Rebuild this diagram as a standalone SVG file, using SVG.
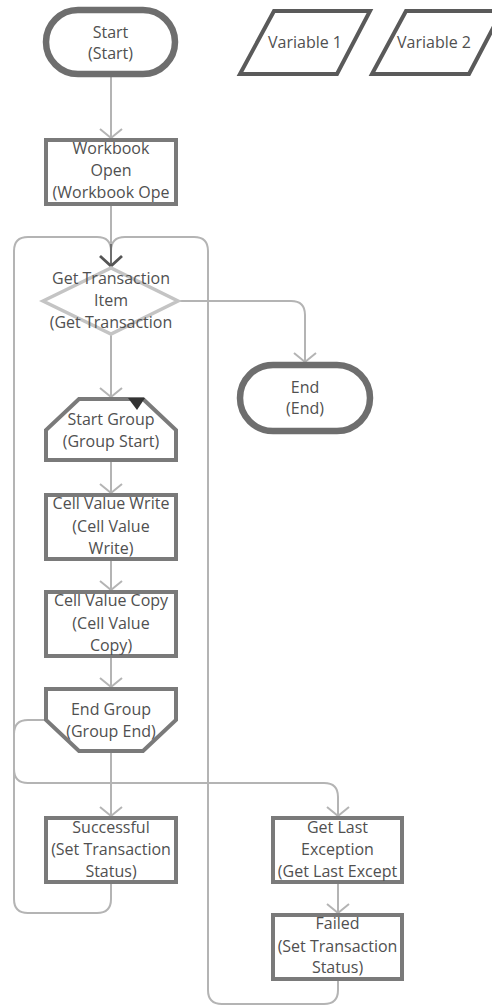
<svg xmlns="http://www.w3.org/2000/svg" width="492" height="1006" viewBox="0 0 492 1006">
<style>
.t{font-family:"Open Sans","Noto Sans","DejaVu Sans",sans-serif;font-size:16px;fill:#505050;text-anchor:middle}
.term{fill:#fff;stroke:#6e6e6e;stroke-width:6.5}
.box{fill:#fff;stroke:#7a7a7a;stroke-width:4}
.var{fill:#fff;stroke:#5a5a5a;stroke-width:4;stroke-linejoin:miter}
.dec{fill:#fff;stroke:#c4c4c4;stroke-width:3.5}
.c{fill:none;stroke:#b4b4b4;stroke-width:2}
</style>
<defs>
<marker id="ar" markerUnits="userSpaceOnUse" markerWidth="24" markerHeight="26" refX="12" refY="13" orient="auto" overflow="visible">
<path d="M3,2 L12,13 L3,24" fill="none" stroke="#b4b4b4" stroke-width="2"/>
</marker>
<marker id="ard" markerUnits="userSpaceOnUse" markerWidth="24" markerHeight="26" refX="12" refY="13" orient="auto" overflow="visible">
<path d="M2,2 L12,13 L2,24" fill="none" stroke="#555" stroke-width="2.8"/>
</marker>
</defs>
<g id="connectors">
<path class="c" d="M111,884 V899 Q111,913 97,913 H28 Q14,913 14,899 V251 Q14,237 28,237 H97 Q111,237 111,251"/>
<path class="c" d="M338,981 V990 Q338,1004 324,1004 H222 Q208,1004 208,990 V251 Q208,237 194,237 H125 Q111,237 111,251"/>
<path class="c" d="M111,77 V138" marker-end="url(#ar)"/>
<path class="c" d="M111,206 V244"/>
<path d="M111,244 V266" fill="none" stroke="#707070" stroke-width="2" marker-end="url(#ard)"/>
<path class="c" d="M178,301 H291 Q305,301 305,315 V362" marker-end="url(#ar)"/>
<path class="c" d="M111,334 V397" marker-end="url(#ar)"/>
<path class="c" d="M111,462 V493" marker-end="url(#ar)"/>
<path class="c" d="M111,561 V590" marker-end="url(#ar)"/>
<path class="c" d="M111,658 V687" marker-end="url(#ar)"/>
<path class="c" d="M111,753 V816" marker-end="url(#ar)"/>
<path class="c" d="M44,720 H28 Q14,720 14,734 V769 Q14,783 28,783 H324 Q338,783 338,797 V816" marker-end="url(#ar)"/>
<path class="c" d="M338,884 V913" marker-end="url(#ar)"/>
</g>
<g id="start">
<rect class="term" x="46" y="10" width="129" height="64" rx="32"/>
<text class="t" x="110.5" y="38">Start</text>
<text class="t" x="110.5" y="59">(Start)</text>
</g>
<g id="var1">
<polygon class="var" points="274,11 370,11 337,74 240,74"/>
<text class="t" x="305" y="48">Variable 1</text>
</g>
<g id="var2">
<polygon class="var" points="406,11 502,11 469,74 372,74"/>
<text class="t" x="434" y="48">Variable 2</text>
</g>
<g id="workbook">
<rect class="box" x="46" y="140" width="130" height="64"/>
<text class="t" x="111" y="154">Workbook</text>
<text class="t" x="111" y="176">Open</text>
<text class="t" x="111" y="198">(Workbook Ope</text>
</g>
<g id="gettx">
<polygon class="dec" points="43,301 111,268 178,301 111,334"/>
<text class="t" x="111" y="284">Get Transaction</text>
<text class="t" x="111" y="306">Item</text>
<text class="t" x="111" y="328">(Get Transaction</text>
</g>
<g id="end">
<rect class="term" x="240" y="365" width="130" height="66" rx="33"/>
<text class="t" x="305" y="393">End</text>
<text class="t" x="305" y="414">(End)</text>
</g>
<g id="startgroup">
<polygon class="box" points="79,399 143,399 176,430 176,460 46,460 46,430"/>
<polygon points="128,398 145,398 137,410" fill="#333"/>
<text class="t" x="111" y="425">Start Group</text>
<text class="t" x="111" y="447">(Group Start)</text>
</g>
<g id="cvw">
<rect class="box" x="46" y="495" width="130" height="64"/>
<text class="t" x="111" y="509">Cell Value Write</text>
<text class="t" x="111" y="532">(Cell Value</text>
<text class="t" x="111" y="554">Write)</text>
</g>
<g id="cvc">
<rect class="box" x="46" y="592" width="130" height="64"/>
<text class="t" x="111" y="606">Cell Value Copy</text>
<text class="t" x="111" y="629">(Cell Value</text>
<text class="t" x="111" y="651">Copy)</text>
</g>
<g id="endgroup">
<polygon class="box" points="46,689 176,689 176,720 143,751 79,751 46,720"/>
<text class="t" x="111" y="715">End Group</text>
<text class="t" x="111" y="737">(Group End)</text>
</g>
<g id="successful">
<rect class="box" x="46" y="818" width="130" height="64"/>
<text class="t" x="111" y="833">Successful</text>
<text class="t" x="111" y="855">(Set Transaction</text>
<text class="t" x="111" y="877">Status)</text>
</g>
<g id="getlast">
<rect class="box" x="273" y="818" width="129" height="64"/>
<text class="t" x="337.5" y="833">Get Last</text>
<text class="t" x="337.5" y="855">Exception</text>
<text class="t" x="337.5" y="877">(Get Last Except</text>
</g>
<g id="failed">
<rect class="box" x="273" y="915" width="129" height="64"/>
<text class="t" x="337.5" y="929">Failed</text>
<text class="t" x="337.5" y="952">(Set Transaction</text>
<text class="t" x="337.5" y="973">Status)</text>
</g>
</svg>
